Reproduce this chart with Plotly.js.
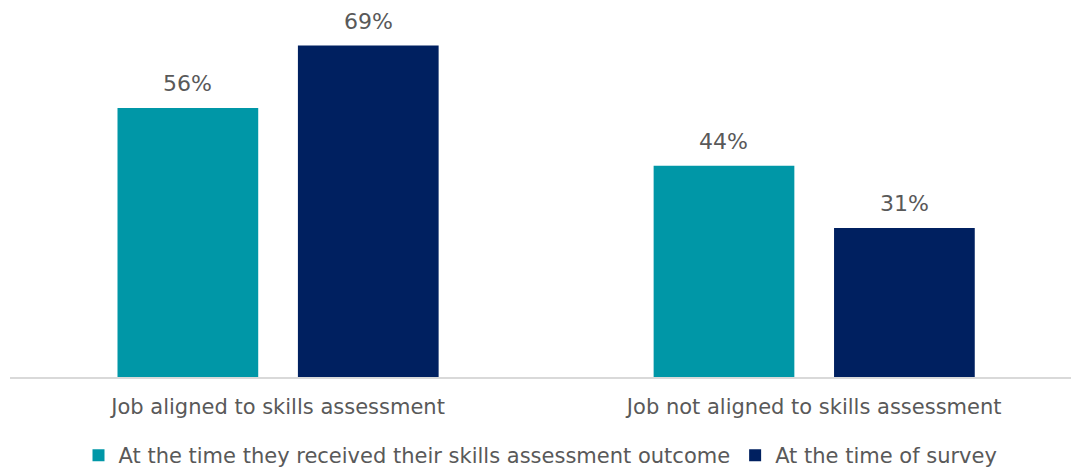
<!DOCTYPE html>
<html>
<head>
<meta charset="utf-8">
<script src="https://cdn.plot.ly/plotly-3.0.1.min.js"></script>
<style>html,body{margin:0;padding:0;background:#fff;}#chart{width:1071px;height:468px;}</style>
</head>
<body>
<div id="chart"></div>
<script>
const categories = ["Job aligned to skills assessment", "Job not aligned to skills assessment"];
const seriesNames = ["At the time they received their skills assessment outcome", "At the time of survey"];
const atOutcome = [56, 44];
const atSurvey = [69, 31];
const colors = ["#0097A7", "#002060"];

const font = "DejaVu Sans, Verdana, sans-serif";
const bargap = 0.327;
const series = [atOutcome, atSurvey];
const traces = series.map((vals, i) => ({
  type: "bar",
  name: seriesNames[i],
  x: categories,
  y: vals,
  marker: {color: colors[i]},
  hoverinfo: "none"
}));

// value labels above bars, positioned through the axis scales
const slot = (1 - bargap) / series.length;
const annotations = [];
series.forEach((vals, i) => {
  const off = -((1 - bargap) / 2) + slot * (i + 0.5);
  vals.forEach((v, j) => {
    annotations.push({
      x: j + off, y: v, xref: "x", yref: "y",
      text: v + "%", showarrow: false,
      yanchor: "bottom", yshift: 10,
      font: {family: font, size: 22, color: "#595959"}
    });
  });
});

const layout = {
  width: 1071,
  height: 468,
  margin: {l: 10, r: 0, t: 0, b: 91, autoexpand: false},
  paper_bgcolor: "#fff",
  plot_bgcolor: "#fff",
  barmode: "group",
  bargap: bargap,
  bargroupgap: 0.22,
  showlegend: true,
  annotations: annotations,
  legend: {
    orientation: "h",
    x: 0.5, xanchor: "center",
    y: -0.154, yanchor: "top",
    font: {family: font, size: 21, color: "#595959"},
    itemwidth: 30,
    traceorder: "normal"
  },
  xaxis: {
    range: [-0.5, 1.479],
    showgrid: false,
    zeroline: false,
    showline: true,
    linecolor: "#d9d9d9",
    linewidth: 2,
    ticks: "",
    ticklabelstandoff: 10,
    tickfont: {family: font, size: 21, color: "#595959"}
  },
  yaxis: {
    range: [0, 78.5],
    visible: false,
    showgrid: false,
    zeroline: false
  }
};

Plotly.newPlot("chart", traces, layout, {displayModeBar: false, staticPlot: true});
</script>
</body>
</html>
